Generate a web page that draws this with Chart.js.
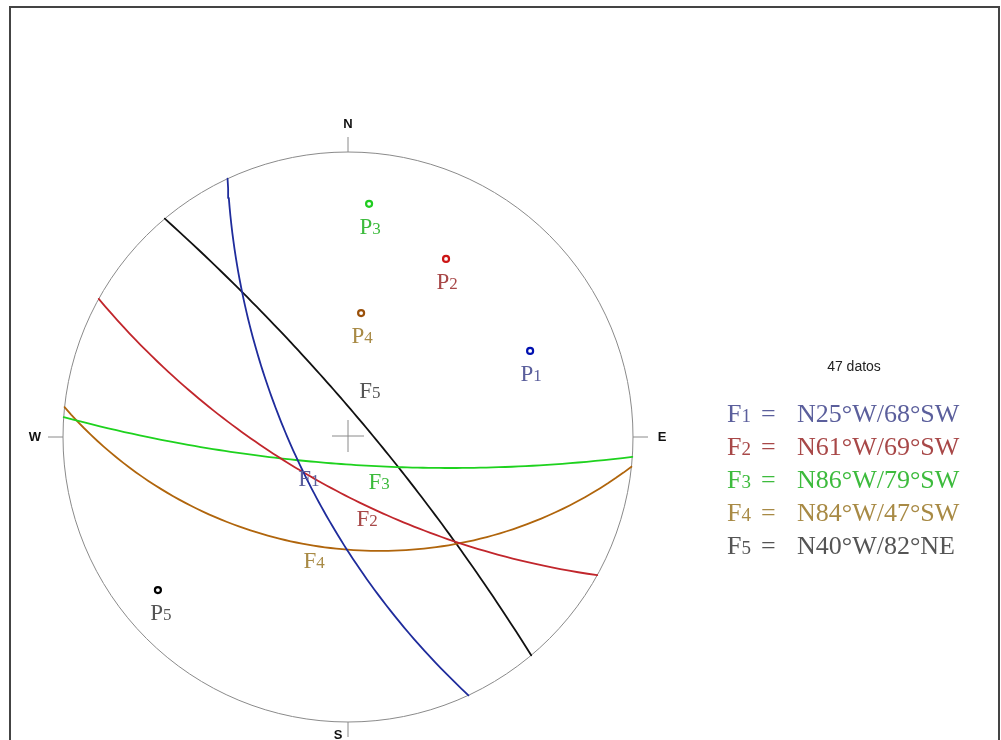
<!DOCTYPE html>
<html>
<head>
<meta charset="utf-8">
<script src="https://cdn.jsdelivr.net/npm/chart.js@4"></script>
<style>
  body { margin: 0; background: #fff; }
  canvas { display: block; }
</style>
</head>
<body>
<canvas id="myChart" width="1001" height="740"></canvas>
<script>
// planes (strike as azimuth, dip angle, dip quadrant)
var planeNames = ["F1", "F2", "F3", "F4", "F5"];
var strikes = [335, 299, 274, 276, 320];
var dips = [68, 69, 79, 47, 82];
var dipQuads = ["SW", "SW", "SW", "SW", "NE"];
var legendTexts = ["N25°W/68°SW", "N61°W/69°SW", "N86°W/79°SW", "N84°W/47°SW", "N40°W/82°NE"];

// poles read from the net (unit circle coords)
var poleNames = ["P1", "P2", "P3", "P4", "P5"];
var poleX = [0.639, 0.344, 0.074, 0.046, -0.667];
var poleY = [0.302, 0.625, 0.818, 0.435, -0.537];

var nData = "47 datos";

var lineColors = ["#1f2c9c", "#c1262c", "#1ed21e", "#b0650c", "#111111"];
var textColors = ["#5b5f9c", "#a84848", "#3dbb3d", "#a88a45", "#555555"];
var poleColors = ["#0010b0", "#cc1515", "#20cc20", "#9a500a", "#000000"];

// where the plane labels sit
var planeLabelPos = [[-0.137, -0.144], [0.067, -0.284], [0.109, -0.154], [-0.119, -0.432], [0.077, 0.165]];

function rad(a) { return a * Math.PI / 180; }

// great circle in Wulff (stereographic) projection
function greatCircle(strike, dip, quad) {
  var wantN = quad.indexOf("N") >= 0, wantE = quad.indexOf("E") >= 0;
  function ok(a) { return (Math.cos(rad(a)) > 0) === wantN && (Math.sin(rad(a)) > 0) === wantE; }
  var dd = (strike + 90) % 360;
  if (!ok(dd)) dd = (strike + 270) % 360;
  var s = dd - 90;
  var S = [Math.sin(rad(s)), Math.cos(rad(s)), 0];
  var D = [Math.cos(rad(dip)) * Math.sin(rad(dd)), Math.cos(rad(dip)) * Math.cos(rad(dd)), Math.sin(rad(dip))];
  var pts = [];
  for (var t = 0; t <= 180; t += 2) {
    var c = Math.cos(rad(t)), sn = Math.sin(rad(t));
    var e = c * S[0] + sn * D[0], n = c * S[1] + sn * D[1], d = c * S[2] + sn * D[2];
    var trend = Math.atan2(e, n);
    var plunge = Math.asin(Math.max(-1, Math.min(1, d)));
    var r = Math.tan((Math.PI / 2 - plunge) / 2);
    pts.push({ x: r * Math.sin(trend), y: r * Math.cos(trend) });
  }
  return pts;
}

function drawSubLabel(ctx, letter, digit, x, y, color, size, align) {
  ctx.fillStyle = color;
  ctx.textBaseline = "alphabetic";
  ctx.font = size + "px 'Liberation Serif'";
  var w1 = ctx.measureText(letter).width;
  ctx.font = Math.round(size * 0.72) + "px 'Liberation Serif'";
  var w2 = ctx.measureText(digit).width;
  var x0 = align === "center" ? x - (w1 + w2) / 2 : x;
  ctx.textAlign = "left";
  ctx.font = size + "px 'Liberation Serif'";
  ctx.fillText(letter, x0, y);
  ctx.font = Math.round(size * 0.72) + "px 'Liberation Serif'";
  ctx.fillText(digit, x0 + w1, y);
}

var netFrame = {
  id: "netFrame",
  beforeDatasetsDraw: function (chart) {
    var ctx = chart.ctx, xs = chart.scales.x, ys = chart.scales.y;
    var cx = xs.getPixelForValue(0), cy = ys.getPixelForValue(0);
    var R = xs.getPixelForValue(1) - cx;
    ctx.save();
    // page border
    ctx.strokeStyle = "#444";
    ctx.lineWidth = 2;
    ctx.beginPath();
    ctx.moveTo(10, 740); ctx.lineTo(10, 7); ctx.lineTo(999, 7); ctx.lineTo(999, 740);
    ctx.stroke();
    // primitive
    ctx.strokeStyle = "#8a8a8a";
    ctx.lineWidth = 1;
    ctx.beginPath();
    ctx.arc(cx, cy, R, 0, Math.PI * 2);
    ctx.stroke();
    // ticks
    ctx.beginPath();
    ctx.moveTo(cx, cy - R); ctx.lineTo(cx, cy - R - 15);
    ctx.moveTo(cx, cy + R); ctx.lineTo(cx, cy + R + 15);
    ctx.moveTo(cx - R, cy); ctx.lineTo(cx - R - 15, cy);
    ctx.moveTo(cx + R, cy); ctx.lineTo(cx + R + 15, cy);
    // centre cross
    ctx.moveTo(cx - 16, cy - 1); ctx.lineTo(cx + 16, cy - 1);
    ctx.moveTo(cx, cy - 17); ctx.lineTo(cx, cy + 15);
    ctx.stroke();
    // cardinal letters
    ctx.fillStyle = "#111";
    ctx.font = "bold 13px 'Liberation Sans'";
    ctx.textAlign = "center";
    ctx.textBaseline = "middle";
    ctx.fillText("N", cx, cy - R - 28);
    ctx.fillText("S", cx - 10, cy + R + 13);
    ctx.fillText("W", cx - R - 28, cy);
    ctx.fillText("E", cx + R + 29, cy);
    ctx.restore();
  },
  afterDatasetsDraw: function (chart) {
    var ctx = chart.ctx, xs = chart.scales.x, ys = chart.scales.y;
    ctx.save();
    // plane labels
    for (var i = 0; i < planeNames.length; i++) {
      var px = xs.getPixelForValue(planeLabelPos[i][0]);
      var py = ys.getPixelForValue(planeLabelPos[i][1]);
      drawSubLabel(ctx, planeNames[i][0], planeNames[i][1], px, py + 8, textColors[i], 23, "center");
    }
    // pole labels
    for (var j = 0; j < poleNames.length; j++) {
      var qx = xs.getPixelForValue(poleX[j]);
      var qy = ys.getPixelForValue(poleY[j]);
      drawSubLabel(ctx, poleNames[j][0], poleNames[j][1], qx + (j === 4 ? 3 : 1), qy + 30, textColors[j], 23, "center");
    }
    // count
    ctx.fillStyle = "#222";
    ctx.font = "14px 'Liberation Sans'";
    ctx.textAlign = "center";
    ctx.textBaseline = "middle";
    ctx.fillText(nData, 854, 367);
    // legend
    for (var k = 0; k < planeNames.length; k++) {
      var ly = 422 + k * 33;
      drawSubLabel(ctx, planeNames[k][0], planeNames[k][1], 727, ly, textColors[k], 26, "left");
      ctx.font = "26px 'Liberation Serif'";
      ctx.textAlign = "left";
      ctx.fillText("=", 761, ly);
      ctx.fillText(legendTexts[k], 797, ly);
    }
    ctx.restore();
  }
};

var datasets = [];
for (var i = 0; i < planeNames.length; i++) {
  datasets.push({
    label: planeNames[i],
    data: greatCircle(strikes[i], dips[i], dipQuads[i]),
    showLine: true,
    borderColor: lineColors[i],
    borderWidth: 1.8,
    borderJoinStyle: "round",
    borderCapStyle: "round",
    pointRadius: 0,
    fill: false
  });
}
for (var j = 0; j < poleNames.length; j++) {
  datasets.push({
    label: poleNames[j],
    data: [{ x: poleX[j], y: poleY[j] }],
    showLine: false,
    pointRadius: 3,
    pointBorderWidth: 2.2,
    pointBorderColor: poleColors[j],
    pointBackgroundColor: "#fff"
  });
}

var ctx = document.getElementById("myChart").getContext("2d");
var chart = new Chart(ctx, {
  type: "scatter",
  data: { datasets: datasets },
  options: {
    responsive: false,
    animation: false,
    clip: false,
    layout: { autoPadding: false, padding: { left: 63, top: 152, right: 368, bottom: 18 } },
    scales: {
      x: { type: "linear", min: -1, max: 1, display: false },
      y: { type: "linear", min: -1, max: 1, display: false }
    },
    plugins: { legend: { display: false }, tooltip: { enabled: false } }
  },
  plugins: [netFrame]
});
</script>
</body>
</html>
